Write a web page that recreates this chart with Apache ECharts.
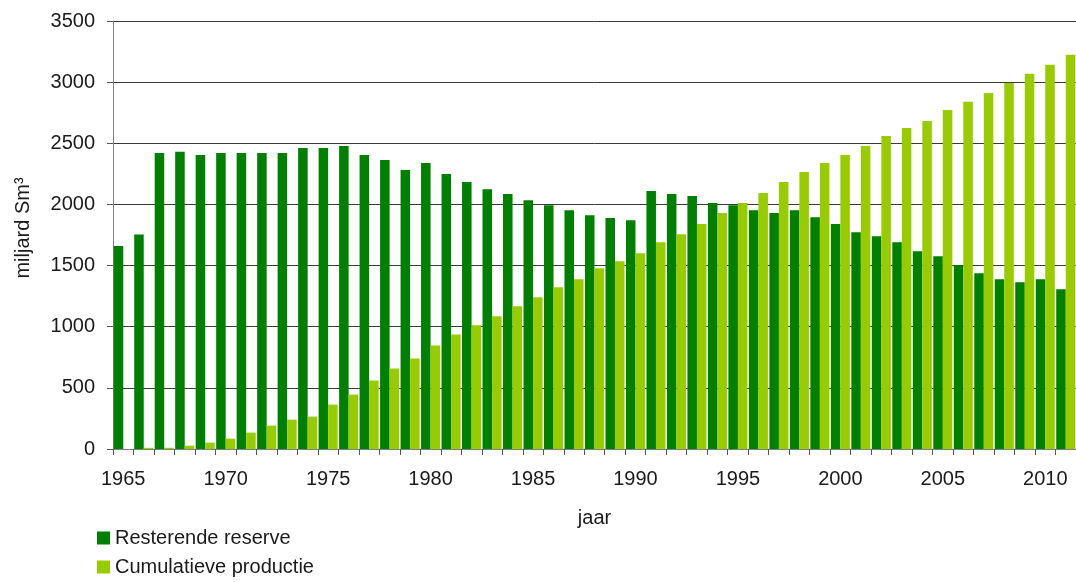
<!DOCTYPE html>
<html>
<head>
<meta charset="utf-8">
<script src="https://cdn.jsdelivr.net/npm/echarts@6/dist/echarts.min.js"></script>
<style>
html,body{margin:0;padding:0;background:#fff;}
#chart{width:1076px;height:582px;}
</style>
</head>
<body>
<div id="chart"></div>
<script>
var years = [];
for (var y = 1965; y <= 2011; y++) years.push(String(y));

var resterendeReserve = [
  1660, 1755, 2420, 2430, 2405, 2420, 2420, 2420, 2420, 2462,
  2462, 2478, 2404, 2363, 2281, 2339, 2248, 2183, 2125, 2085,
  2035, 1994, 1953, 1912, 1888, 1871, 2109, 2085, 2068, 2011,
  1994, 1953, 1929, 1953, 1896, 1839, 1773, 1740, 1691, 1617,
  1576, 1503, 1437, 1388, 1363, 1388, 1306
];

var cumulatieveProductie = [
  0, 10, 10, 27, 52, 85, 134, 191, 240, 265,
  363, 445, 560, 658, 740, 847, 937, 1011, 1085, 1167,
  1240, 1322, 1388, 1478, 1535, 1601, 1691, 1757, 1839, 1929,
  2011, 2093, 2183, 2265, 2339, 2404, 2478, 2560, 2625, 2683,
  2773, 2839, 2912, 2994, 3068, 3142, 3224
];

var seriesNames = ['Resterende reserve', 'Cumulatieve productie'];
var colors = ['#008000', '#99CC00'];
var font = 'Liberation Sans, Arial, sans-serif';

var legendStyle = function (name, top) {
  return {
    orient: 'vertical',
    left: 92,
    top: top,
    itemWidth: 13,
    itemHeight: 13,
    icon: 'rect',
    textStyle: {fontFamily: font, fontSize: 20, color: '#1a1a1a'},
    data: [name]
  };
};

var chart = echarts.init(document.getElementById('chart'), null, {renderer: 'canvas'});
chart.setOption({
  animation: false,
  backgroundColor: '#ffffff',
  color: colors,
  grid: {left: 113, right: 0, top: 21, bottom: 133, containLabel: false, outerBoundsMode: 'none'},
  legend: [legendStyle(seriesNames[0], 523), legendStyle(seriesNames[1], 552)],
  xAxis: {
    type: 'category',
    data: years,
    name: 'jaar',
    nameLocation: 'middle',
    nameGap: 59,
    nameTextStyle: {fontFamily: font, fontSize: 20, color: '#1a1a1a'},
    boundaryGap: true,
    axisLine: {lineStyle: {color: '#808080', width: 1}},
    axisTick: {show: true, interval: 0, length: 6, lineStyle: {color: '#555'}},
    axisLabel: {interval: 4, margin: 20, fontFamily: font, fontSize: 20, color: '#1a1a1a'},
    splitLine: {show: false}
  },
  yAxis: {
    type: 'value',
    min: 0,
    max: 3500,
    interval: 500,
    name: 'miljard Sm³',
    nameLocation: 'middle',
    nameGap: 80,
    nameTextStyle: {fontFamily: font, fontSize: 20, color: '#1a1a1a', padding: [0, 0, 0, 14]},
    axisLine: {show: true, lineStyle: {color: '#808080', width: 1}},
    axisTick: {show: true, length: 6, lineStyle: {color: '#555'}},
    axisLabel: {margin: 18, fontFamily: font, fontSize: 20, color: '#1a1a1a',
      formatter: function (v) { return String(v); }},
    splitLine: {show: true, lineStyle: {color: '#3a3a3a', width: 1}}
  },
  series: [
    {name: seriesNames[0], type: 'bar', data: resterendeReserve, barGap: '0%', barCategoryGap: '7%', itemStyle: {color: colors[0]}},
    {name: seriesNames[1], type: 'bar', data: cumulatieveProductie, barGap: '0%', barCategoryGap: '7%', itemStyle: {color: colors[1]}}
  ]
});
</script>
</body>
</html>
